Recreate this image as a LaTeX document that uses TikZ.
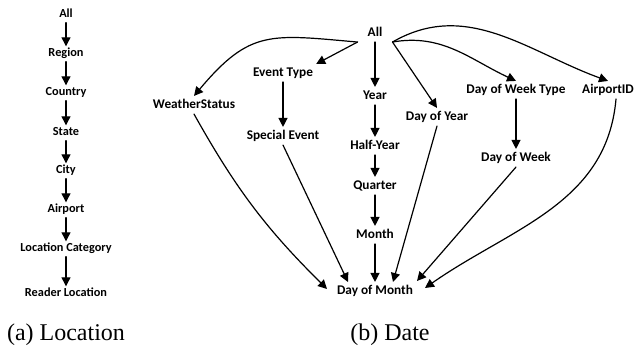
\documentclass[tikz,border=0pt]{standalone}
\usepackage{fontspec}
\setmainfont{Liberation Serif}
\newfontfamily\lblfont{Carlito}
\usetikzlibrary{arrows.meta,calc}

\begin{document}
\begin{tikzpicture}[line cap=round,line join=round,>={Triangle[width=9pt,length=9pt]},x=1.0pt,y=1.0pt,
	lvl/.style={font=\lblfont\bfseries\fontsize{12.3}{14}\selectfont,inner sep=2pt,text height=8.5pt,text depth=2.5pt},
	dlvl/.style={font=\lblfont\bfseries\fontsize{13.3}{15}\selectfont,inner sep=3pt,text height=9pt,text depth=2.7pt},
	arr/.style={->,line width=1.2pt},
	capt/.style={font=\fontsize{24}{28}\selectfont,inner sep=0pt}]
				\useasboundingbox (0,0) rectangle (635,347);
				\node[lvl] (a-all) at (66,332) {All};
				\node[lvl] (a-region) at (66,293) {Region};
				\node[lvl] (a-country) at (66,254) {Country};
				\node[lvl] (a-state) at (66,214) {State};
				\node[lvl] (a-city) at (66,176) {City};
				\node[lvl] (a-airport) at (66,137) {Airport};
				\node[lvl] (a-loccat) at (66,98) {Location Category};
				\node[lvl] (a-reader) at (66,53) {Reader Location};
				\node[capt] (a-cap) at (66,12) {(a) Location};
				\draw [arr] (a-all.south)-- (a-region.north);
				\draw [arr] (a-region.south)-- (a-country.north);
				\draw [arr] (a-country.south)-- (a-state.north);
				\draw [arr] (a-state.south)-- (a-city.north);
				\draw [arr] (a-city.south)-- (a-airport.north);
				\draw [arr] (a-airport.south)-- (a-loccat.north);
				\draw [arr] (a-loccat.south)-- (a-reader.north);
				\node[dlvl,inner xsep=10pt] (all) at (375,314) {All};
				\node[dlvl] (eventtype) at (283,274) {Event Type};
				\node[dlvl] (weather) at (194,242) {WeatherStatus};
				\node[dlvl] (year) at (375,251) {Year};
				\node[dlvl] (dayofyear) at (437,230) {Day of Year};
				\node[dlvl] (dowtype) at (516,257) {Day of Week Type};
				\node[dlvl] (airportid) at (608,257) {AirportID};
				\node[dlvl] (specialevent) at (283,211) {Special Event};
				\node[dlvl] (halfyear) at (375,201) {Half-Year};
				\node[dlvl] (dayofweek) at (516,189) {Day of Week};
				\node[dlvl] (quarter) at (375,161) {Quarter};
				\node[dlvl] (month) at (375,112) {Month};
				\node[dlvl] (dayofmonth) at (375,56) {Day of Month};
				\node[capt] (b-cap) at (390,12) {(b) Date};
				\draw [arr] (all.south west) to[out=175,in=50,looseness=1.3] (weather.north);
				\draw [arr] (all.south west)-- (eventtype.north east);
				\draw [arr] (all.south)-- (year.north);
				\draw [arr] (all.south east)-- (dayofyear.north);
				\draw [arr] (all.south east) to[out=10,in=155] (dowtype.north);
				\draw [arr] (all.south east) to[out=30,in=160] (airportid.north);
				\draw [arr] (eventtype.south)-- (specialevent.north);
				\draw [arr] (year.south)-- (halfyear.north);
				\draw [arr] (halfyear.south)-- (quarter.north);
				\draw [arr] (quarter.south)-- (month.north);
				\draw [arr] (dowtype.south)-- (dayofweek.north);
				\draw [arr] (weather.south) to[bend right=8] ($(dayofmonth)+(-48,2)$);
				\draw [arr] (specialevent.south)-- ($(dayofmonth)+(-27,9)$);
				\draw [arr] (month.south)-- (dayofmonth.north);
				\draw [arr] (dayofyear.south)-- ($(dayofmonth)+(18,9)$);
				\draw [arr] (dayofweek.south)-- ($(dayofmonth)+(42,10)$);
				\draw [arr] ($(airportid.south)+(8,0)$) to[out=-95,in=35] ($(dayofmonth)+(50,3)$);
\end{tikzpicture}
\end{document}
